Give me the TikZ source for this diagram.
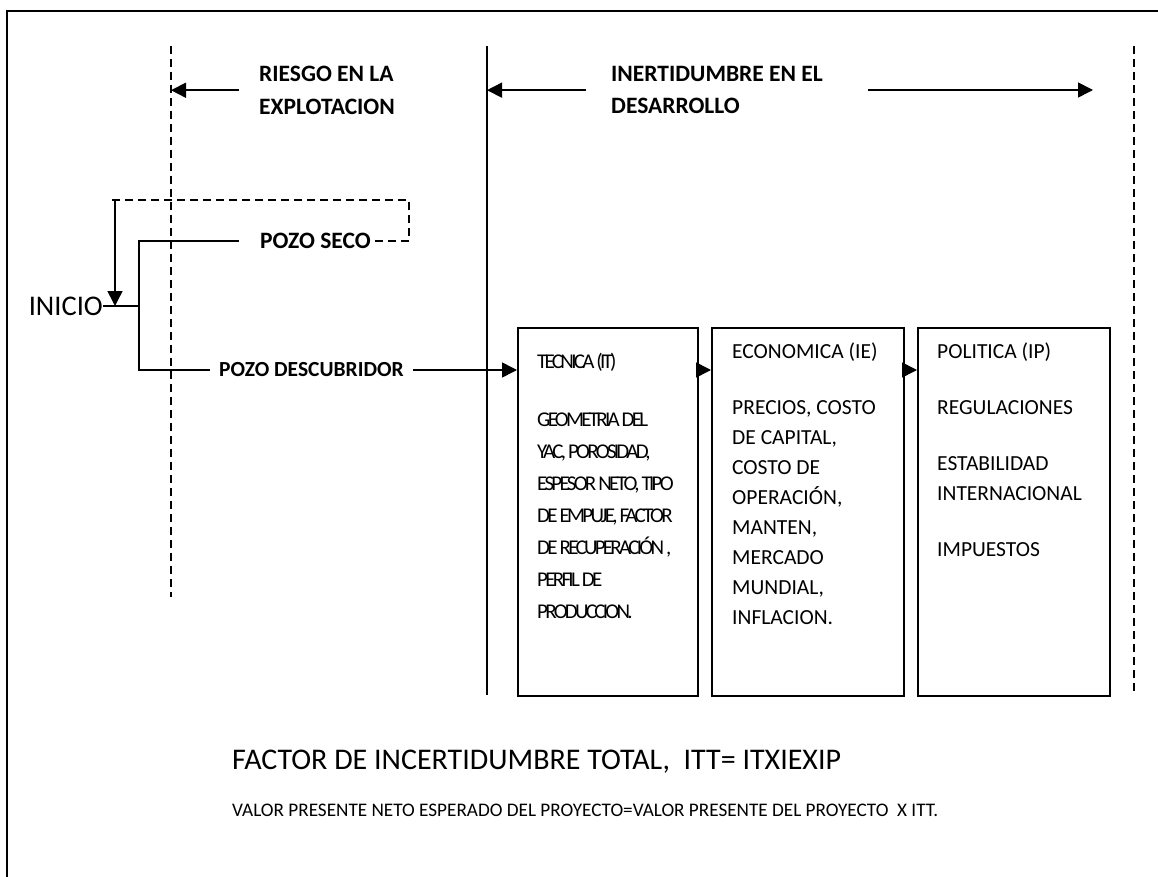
\documentclass[tikz,border=0pt]{standalone}
\usepackage{fontspec}
\setmainfont{Carlito}
\newfontfamily\tightfont[LetterSpace=-13]{Carlito}
\usetikzlibrary{arrows.meta, positioning}

\begin{document}
\begin{tikzpicture}[x=1pt, y=-1pt,
  line/.style={line width=1.6pt},
  dline/.style={line width=1.6pt, dash pattern=on 8pt off 5pt},
  arr/.style={line width=1.6pt, -{Triangle[length=15pt, width=15pt]}},
  hdr/.style={font=\fontsize{23.5}{32.5}\selectfont\bfseries,
              align=left, anchor=north west, inner sep=0pt},
  pozo/.style={font=\fontsize{#1}{28}\selectfont\bfseries,
               anchor=west, inner sep=0pt},
  box/.style={draw, line width=1.6pt, minimum width=#1,
              minimum height=368pt, anchor=north west, inner sep=0pt},
  txt/.style={font=\fontsize{21.5}{30}\selectfont,
              align=left, anchor=north west, inner sep=0pt},
  tighttxt/.style={font=\tightfont\fontsize{21}{32}\selectfont,
                   align=left, anchor=north west, inner sep=0pt}
]
\useasboundingbox (0,0) rectangle (1158,877);
\draw[line width=2pt] (1158,11) -- (7,11) -- (7,877);

% zone limits
\coordinate (vA) at (171,46);
\coordinate (vB) at (487,46);
\coordinate (vC) at (1134,46);
\draw[dline] (vA) -- ++(0,551);
\draw[line]  (vB) -- ++(0,649);
\draw[dline] (vC) -- ++(0,649);

\node[hdr] (riesgo) at (259,66) {RIESGO EN LA\\EXPLOTACION};
\node[hdr] (incert) at (611,66) {INERTIDUMBRE EN EL\\DESARROLLO};
\coordinate (rgo) at (868,90);
\coordinate (rtip) at (1093,90);

\draw[arr] ([xshift=-20pt]riesgo.west) -- (riesgo.west -| vA);
\draw[arr] ([xshift=-25pt]incert.west) -- (incert.west -| vB);
\draw[arr] (rgo) -- (rtip);

% start and wells
\node[font=\fontsize{28.5}{30}\selectfont, anchor=east, inner sep=0pt]
  (inicio) at (103,306) {INICIO};
\coordinate (split) at (139,306);
\node[pozo=23.5] (seco) at (260,241) {POZO SECO};
\node[pozo=21.5] (desc) at (219,370) {POZO DESCUBRIDOR};
\coordinate (loop) at (409,200);
\coordinate (loopend) at (108,200);
\coordinate (back) at (115,200);

\draw[line] (inicio.east) -- (split);
\draw[line] ([xshift=-21pt]seco.west) -| (split) |- ([xshift=-9pt]desc.west);
\draw[dline] ([xshift=4pt]seco.east) -| (loop) -- (loopend);
\draw[arr] (back) -- (back |- split);

% uncertainty boxes
\node[box=180pt] (tec) at (517,327) {};
\node[box=192pt] (eco) at (711,327) {};
\node[box=192pt] (pol) at (917,327) {};

\draw[arr] ([xshift=9pt]desc.east) -- (desc.east -| tec.west);
\draw[arr] (tec.east |- desc) -- (eco.west |- desc);
\draw[arr] (eco.east |- desc) -- (pol.west |- desc);

\node[tighttxt] (tectxt) at (537,353) {TECNICA (IT)\\[26pt]
  GEOMETRIA DEL\\YAC, POROSIDAD,\\ESPESOR NETO, TIPO\\DE EMPUJE, FACTOR\\
  DE RECUPERACIÓN ,\\PERFIL DE\\PRODUCCION.};
\node[txt] (ecotxt) at (732,343) {ECONOMICA (IE)\\[26pt]
  PRECIOS, COSTO\\DE CAPITAL,\\COSTO DE\\OPERACIÓN,\\MANTEN,\\MERCADO\\
  MUNDIAL,\\INFLACION.};
\node[txt] (poltxt) at (937,343) {POLITICA (IP)\\[26pt]
  REGULACIONES\\[26pt]ESTABILIDAD\\INTERNACIONAL\\[26pt]IMPUESTOS};

% totals
\node[font=\fontsize{30}{34}\selectfont, anchor=west, inner sep=0pt]
  (itt) at (232,762) {FACTOR DE INCERTIDUMBRE TOTAL,\ \ ITT= ITXIEXIP};
\node[font=\fontsize{19.2}{22}\selectfont, anchor=west, inner sep=0pt]
  (vpn) at (232,810)
  {VALOR PRESENTE NETO ESPERADO DEL PROYECTO=VALOR PRESENTE DEL PROYECTO\ \ X ITT.};
\end{tikzpicture}
\end{document}
